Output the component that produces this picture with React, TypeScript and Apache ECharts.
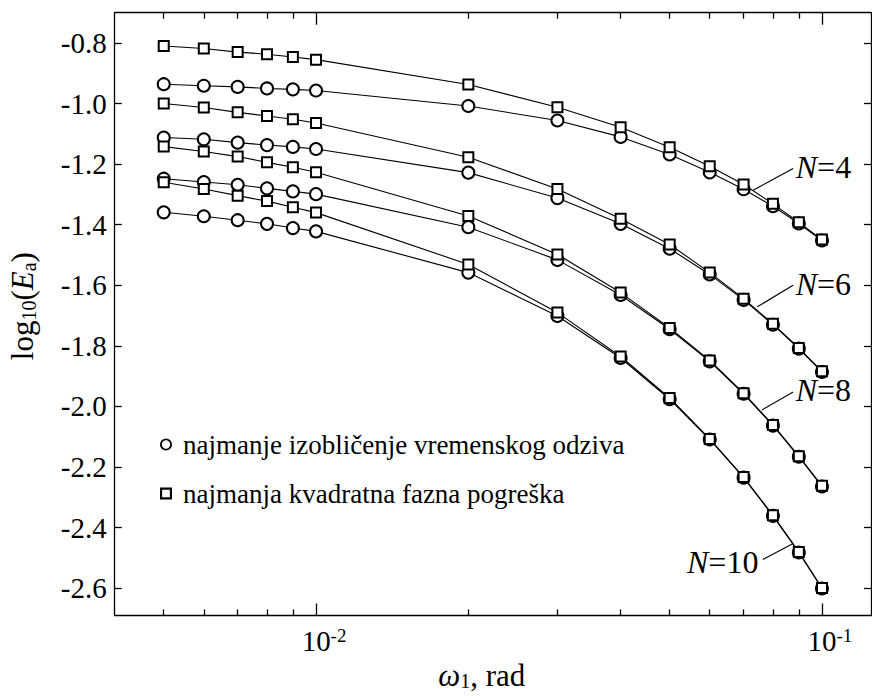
import React, { useEffect, useRef } from "react";
import * as echarts from "echarts";

// ---- data ----
const omega = [0.005, 0.006, 0.007, 0.008, 0.009, 0.01, 0.02, 0.03, 0.04, 0.05, 0.06, 0.07, 0.08, 0.09, 0.1];

const n4Square = [-0.810, -0.818, -0.830, -0.837, -0.846, -0.855, -0.937, -1.012, -1.078, -1.144, -1.207, -1.267, -1.331, -1.392, -1.449];
const n4Circle = [-0.936, -0.941, -0.945, -0.950, -0.953, -0.957, -1.008, -1.056, -1.110, -1.168, -1.227, -1.283, -1.339, -1.396, -1.452];
const n6Square = [-1.000, -1.013, -1.029, -1.041, -1.052, -1.064, -1.177, -1.282, -1.380, -1.465, -1.558, -1.644, -1.727, -1.807, -1.884];
const n6Circle = [-1.112, -1.118, -1.129, -1.137, -1.143, -1.150, -1.228, -1.312, -1.397, -1.479, -1.564, -1.648, -1.730, -1.809, -1.886];
const n8Square = [-1.142, -1.158, -1.175, -1.194, -1.210, -1.227, -1.371, -1.498, -1.624, -1.741, -1.848, -1.956, -2.061, -2.164, -2.262];
const n8Circle = [-1.248, -1.259, -1.268, -1.280, -1.290, -1.299, -1.408, -1.516, -1.632, -1.745, -1.851, -1.958, -2.063, -2.166, -2.264];
const n10Square = [-1.260, -1.282, -1.304, -1.322, -1.342, -1.360, -1.531, -1.690, -1.835, -1.972, -2.107, -2.233, -2.359, -2.480, -2.599];
const n10Circle = [-1.359, -1.372, -1.385, -1.397, -1.411, -1.422, -1.558, -1.701, -1.840, -1.976, -2.109, -2.235, -2.361, -2.482, -2.601];

const yTicks = [-2.6, -2.4, -2.2, -2.0, -1.8, -1.6, -1.4, -1.2, -1.0, -0.8];
const xMajor = [0.01, 0.1];
const xMinor = [0.005, 0.006, 0.007, 0.008, 0.009, 0.02, 0.03, 0.04, 0.05, 0.06, 0.07, 0.08, 0.09];
const xRange = [0.004, 0.125];
const yRange = [-2.69, -0.7];

const circleName = "najmanje izobličenje vremenskog odziva";
const squareName = "najmanja kvadratna fazna pogreška";

// N labels: [label, leader start (omega, y), leader end (omega, y), label distance]
const nLabels: [string, number, number, number, number, number][] = [
  ["4", 0.0731, -1.286, 0.0877, -1.214, 3],
  ["6", 0.0745, -1.671, 0.0877, -1.600, 3],
  ["8", 0.0760, -2.012, 0.0877, -1.952, 3],
  ["10", 0.0877, -2.452, 0.0764, -2.505, 5],
];

const FONT = "Liberation Serif";
const lg = (v: number) => Math.log10(v);

export default function App() {
  const ref = useRef<HTMLDivElement>(null);

  useEffect(() => {
    if (!ref.current) return;
    const chart = echarts.init(ref.current, undefined, { renderer: "svg" });

    const pts = (ys: number[]) => omega.map((w, i) => [lg(w), ys[i]]);

    const mkSeries = (ys: number[], isCircle: boolean, labelIdx: number | null) => {
      const s: any = {
        type: "line",
        name: isCircle ? circleName : squareName,
        data: pts(ys),
        xAxisIndex: 0,
        yAxisIndex: 0,
        symbol: isCircle ? "emptyCircle" : "emptyRect",
        symbolSize: isCircle ? 12 : 10,
        showSymbol: true,
        color: "#000",
        lineStyle: { color: "#000", width: 1.1 },
        itemStyle: { color: "#000", borderColor: "#000", borderWidth: 1.7 },
        emphasis: { disabled: true },
        silent: true,
      };
      if (labelIdx !== null) {
        const [txt, x1, y1, x2, y2, dist] = nLabels[labelIdx];
        s.markLine = {
          silent: true,
          symbol: ["none", "none"],
          lineStyle: { color: "#000", width: 1.1, type: "solid" },
          label: {
            show: true,
            position: "end",
            distance: dist,
            color: "#000",
            formatter: () => `{i|N}{n|=${txt}}`,
            rich: {
              i: { fontFamily: FONT, fontSize: 32, fontStyle: "italic", color: "#000" },
              n: { fontFamily: FONT, fontSize: 32, color: "#000" },
            },
          },
          emphasis: { disabled: true },
          data: [[{ coord: [lg(x1), y1] }, { coord: [lg(x2), y2] }]],
        };
      }
      return s;
    };

    const series = [
      mkSeries(n4Circle, true, 0),
      mkSeries(n4Square, false, null),
      mkSeries(n6Circle, true, 1),
      mkSeries(n6Square, false, null),
      mkSeries(n8Circle, true, 2),
      mkSeries(n8Square, false, null),
      mkSeries(n10Circle, true, 3),
      mkSeries(n10Square, false, null),
    ];

    const axisLineStyle = { color: "#000", width: 1.3 };
    const xMin = lg(xRange[0]);
    const xMax = lg(xRange[1]);

    const xBase = (position: string, ticks: number[], len: number, showLine: boolean): any => ({
      type: "value",
      position,
      min: xMin,
      max: xMax,
      axisLine: { show: showLine, onZero: false, lineStyle: axisLineStyle },
      axisTick: { show: true, inside: true, length: len, customValues: ticks.map(lg), lineStyle: axisLineStyle },
      axisLabel: { show: false },
      splitLine: { show: false },
    });

    const xMain = xBase("bottom", xMajor, 12, true);
    xMain.axisLabel = {
      show: true,
      customValues: xMajor.map(lg),
      margin: 10,
      padding: [0, 0, 0, 16],
      formatter: (v: number) => `{b|10}{s|${Math.round(v)}}`,
      rich: {
        b: { fontFamily: FONT, fontSize: 29, lineHeight: 30, color: "#000" },
        s: { fontFamily: FONT, fontSize: 19, lineHeight: 13, verticalAlign: "top", color: "#000" },
      },
    };
    xMain.name = "{i|ω}{sub|1}{n|, rad}";
    xMain.nameLocation = "middle";
    xMain.nameGap = 43;
    xMain.nameTextStyle = {
      padding: [0, 22, 0, 0],
      rich: {
        i: { fontFamily: FONT, fontSize: 31, fontStyle: "italic", lineHeight: 32, color: "#000" },
        sub: { fontFamily: FONT, fontSize: 20, lineHeight: 10, verticalAlign: "bottom", color: "#000" },
        n: { fontFamily: FONT, fontSize: 31, lineHeight: 32, color: "#000" },
      },
    };

    const yBase = (position: string, showLabel: boolean): any => ({
      type: "value",
      position,
      min: yRange[0],
      max: yRange[1],
      axisLine: { show: true, onZero: false, lineStyle: axisLineStyle },
      axisTick: { show: true, inside: true, length: 7, customValues: yTicks, lineStyle: axisLineStyle },
      axisLabel: showLabel
        ? {
            show: true,
            customValues: yTicks,
            margin: 8,
            formatter: (v: number) => v.toFixed(1),
            fontFamily: FONT,
            fontSize: 29,
            color: "#000",
          }
        : { show: false },
      splitLine: { show: false },
    });

    const yMain = yBase("left", true);
    yMain.name = "{n|log}{sub|10}{n|(}{i|E}{sub|a}{n|)}";
    yMain.nameLocation = "middle";
    yMain.nameGap = 76;
    yMain.nameTextStyle = {
      padding: [0, 0, 0, 16],
      rich: {
        n: { fontFamily: FONT, fontSize: 31, lineHeight: 32, color: "#000" },
        i: { fontFamily: FONT, fontSize: 31, fontStyle: "italic", lineHeight: 32, color: "#000" },
        sub: { fontFamily: FONT, fontSize: 20, lineHeight: 10, verticalAlign: "bottom", color: "#000" },
      },
    };

    const ringIcon =
      "path://M6,0 A6,6 0 1,1 6,12 A6,6 0 1,1 6,0 Z M6,1.8 A4.2,4.2 0 1,0 6,10.2 A4.2,4.2 0 1,0 6,1.8 Z";
    const squareIcon = "path://M0,0 L10,0 L10,10 L0,10 Z M1.8,1.8 L1.8,8.2 L8.2,8.2 L8.2,1.8 Z";

    chart.setOption({
      animation: false,
      backgroundColor: "#fff",
      textStyle: { fontFamily: FONT },
      grid: {
        left: 114.7,
        right: 1,
        top: 12.7,
        bottom: 80.5,
        containLabel: false,
        outerBoundsMode: "none",
      },
      legend: {
        show: true,
        orient: "vertical",
        left: 155,
        top: 426,
        itemWidth: 12,
        itemHeight: 12,
        itemGap: 22,
        selectedMode: false,
        itemStyle: { color: "#000", borderWidth: 0 },
        textStyle: { fontFamily: FONT, fontSize: 27, lineHeight: 27, color: "#000", padding: [0, 0, 0, 6] },
        data: [
          { name: circleName, icon: ringIcon },
          { name: squareName, icon: squareIcon },
        ],
      },
      xAxis: [xMain, xBase("bottom", xMinor, 6, false), xBase("top", xMajor, 12, true), xBase("top", xMinor, 6, false)],
      yAxis: [yMain, yBase("right", false)],
      series,
    });

    return () => chart.dispose();
  }, []);

  return (
    <div
      ref={ref}
      style={{ position: "fixed", left: 0, top: 0, width: 872, height: 696, background: "#fff" }}
    />
  );
}
